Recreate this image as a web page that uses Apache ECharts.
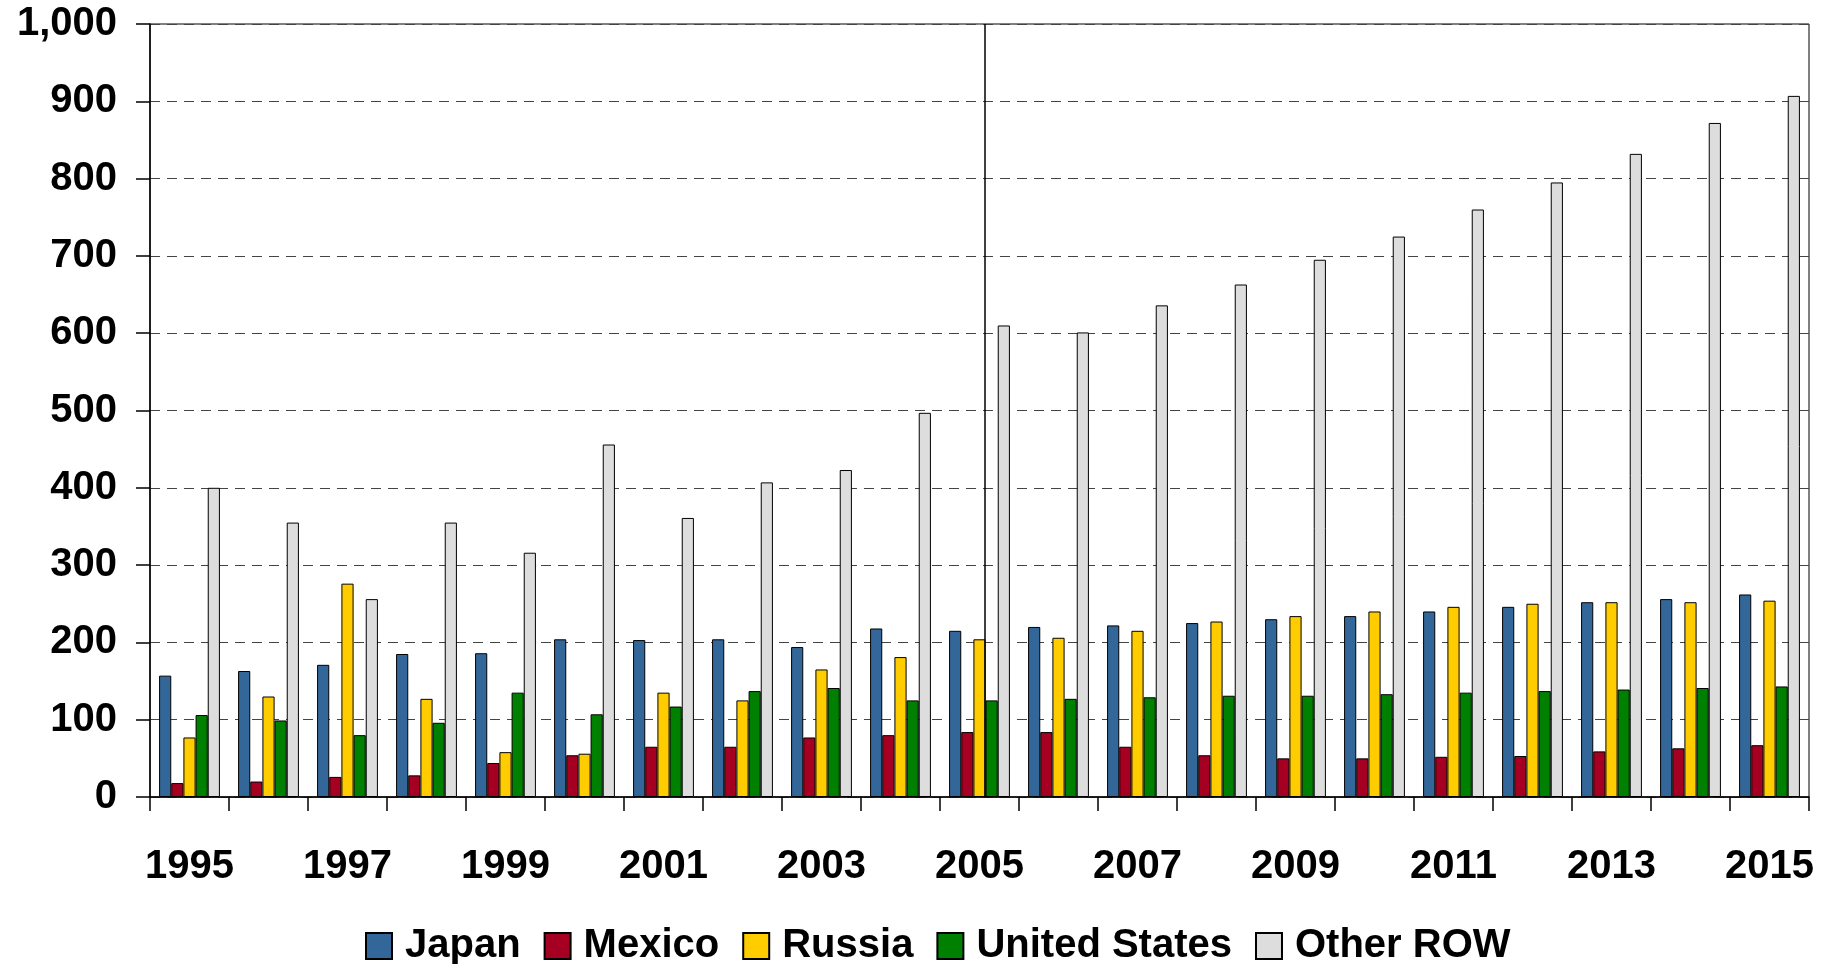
<!DOCTYPE html>
<html>
<head>
<meta charset="utf-8">
<script src="https://cdn.jsdelivr.net/npm/echarts@6/dist/echarts.min.js"></script>
<style>
  html, body { margin: 0; padding: 0; background: #fff; }
  #chart { width: 1833px; height: 964px; }
</style>
</head>
<body>
<div id="chart"></div>
<script>
// years on the x axis
let years = ['1995', '1996', '1997', '1998', '1999', '2000', '2001', '2002', '2003', '2004', '2005',
             '2006', '2007', '2008', '2009', '2010', '2011', '2012', '2013', '2014', '2015'];

let japan  = [157, 163, 171, 185, 186, 204, 203, 204, 194, 218, 215, 220, 222, 225, 230, 234, 240, 246, 252, 256, 262];
let mexico = [18, 20, 26, 28, 44, 54, 65, 65, 77, 80, 84, 84, 65, 54, 50, 50, 52, 53, 59, 63, 67];
let russia = [77, 130, 276, 127, 58, 56, 135, 125, 165, 181, 204, 206, 215, 227, 234, 240, 246, 250, 252, 252, 254];
let usa    = [106, 99, 80, 96, 135, 107, 117, 137, 141, 125, 125, 127, 129, 131, 131, 133, 135, 137, 139, 141, 143];
let other  = [400, 355, 256, 355, 316, 456, 361, 407, 423, 497, 610, 601, 636, 663, 695, 725, 760, 795, 832, 872, 907];

let seriesNames = ['Japan', 'Mexico', 'Russia', 'United States', 'Other ROW'];
let seriesColors = ['#336699', '#A50021', '#FFCC00', '#008000', '#DDDDDD'];
let seriesData = [japan, mexico, russia, usa, other];

// divider between history and projection (in category units, 2005 = 10)
let dividerAt = 10.07;

let font = 'Liberation Sans, Arial, sans-serif';

let series = seriesNames.map(function (name, i) {
    return {
        name: name,
        type: 'bar',
        data: seriesData[i],
        barGap: '0%',
        barCategoryGap: '23%',
        itemStyle: {
            color: seriesColors[i],
            borderColor: '#000',
            borderWidth: 1
        }
    };
});

// the vertical divider line
series.push({
    type: 'line',
    xAxisIndex: 1,
    data: [],
    silent: true,
    markLine: {
        silent: true,
        symbol: 'none',
        label: { show: false },
        lineStyle: { color: '#000', width: 1.5, type: 'solid' },
        data: [{ xAxis: dividerAt }]
    }
});

let chart = echarts.init(document.getElementById('chart'));
chart.setOption({
    animation: false,
    backgroundColor: '#fff',
    grid: {
        left: 150,
        right: 24,
        top: 24,
        bottom: 167,
        show: true,
        borderColor: '#000',
        borderWidth: 1
    },
    legend: {
        data: seriesNames,
        left: 360,
        top: 921,
        itemWidth: 26,
        itemHeight: 26,
        itemGap: 23,
        icon: 'rect',
        textStyle: {
            fontFamily: font,
            fontWeight: 'bold',
            fontSize: 40,
            color: '#000',
            padding: [0, 0, 0, 8]
        }
    },
    xAxis: [{
        type: 'category',
        data: years,
        axisLine: { lineStyle: { color: '#000', width: 1.5 } },
        axisTick: { show: true, interval: 0, length: 14, lineStyle: { color: '#000', width: 1.5 } },
        axisLabel: {
            interval: 1,
            margin: 50,
            fontFamily: font,
            fontWeight: 'bold',
            fontSize: 40,
            color: '#000'
        }
    }, {
        type: 'value',
        show: false,
        min: -0.5,
        max: 20.5
    }],
    yAxis: {
        type: 'value',
        min: 0,
        max: 1000,
        interval: 100,
        axisLine: { show: true, onZero: false, lineStyle: { color: '#000', width: 1.5 } },
        axisTick: { show: true, length: 14, lineStyle: { color: '#000', width: 1.5 } },
        axisLabel: {
            margin: 33,
            fontFamily: font,
            fontWeight: 'bold',
            fontSize: 40,
            color: '#000',
            formatter: function (v) { return v.toLocaleString('en-US'); }
        },
        splitLine: {
            show: true,
            lineStyle: { color: '#444', width: 1.2, type: [10, 7] }
        }
    },
    series: series
});
</script>
</body>
</html>
